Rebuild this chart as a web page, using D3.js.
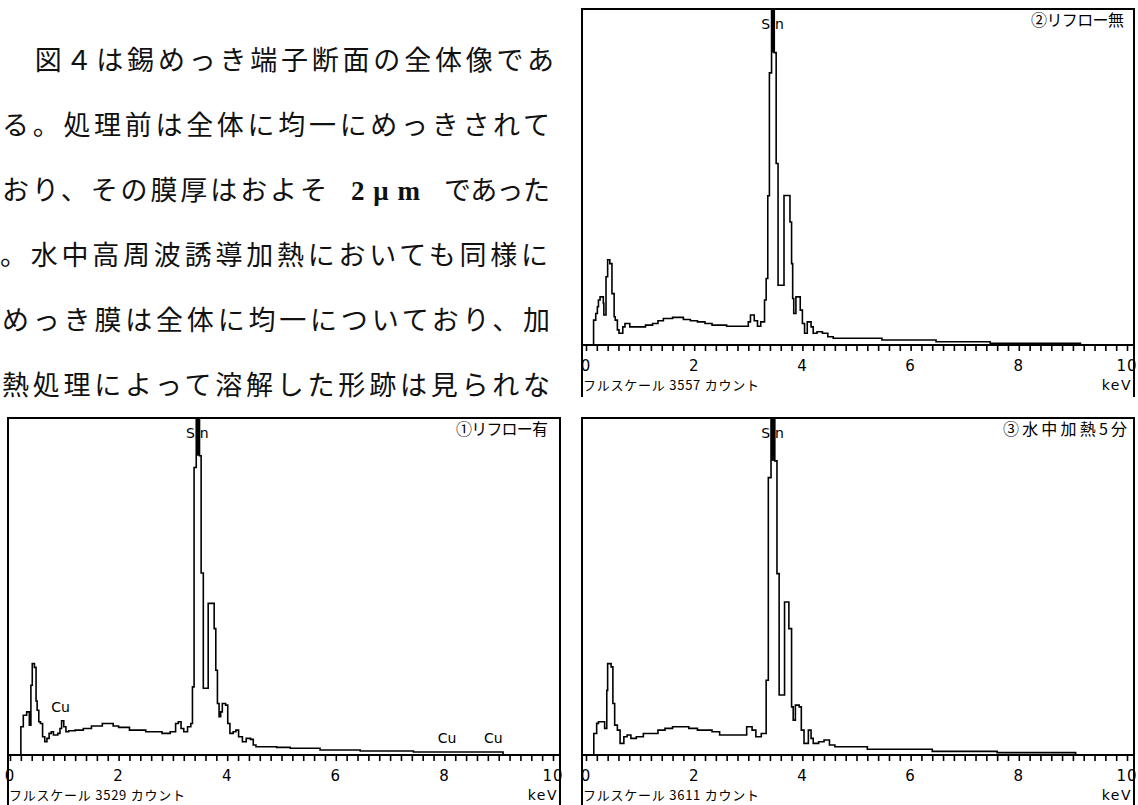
<!DOCTYPE html>
<html>
<head>
<meta charset="utf-8">
<script src="https://cdn.jsdelivr.net/npm/d3@7"></script>
<style>
  body { margin: 0; background: #fff; }
  svg { display: block; }
</style>
</head>
<body>
<div id="chart"></div>
<script>
// Paragraph beside the spectra (one entry per printed line, split where the font changes)
const paragraphLines = [
    [["　図４は錫めっき端子断面の全体像であ", "jp"]],
    [["る。処理前は全体に均一にめっきされて", "jp"]],
    [["おり、その膜厚はおよそ", "jp"], ["2μm", "latin"], ["であった", "jp"]],
    [["。水中高周波誘導加熱においても同様に", "jp"]],
    [["めっき膜は全体に均一についており、加", "jp"]],
    [["熱処理によって溶解した形跡は見られな", "jp"]]
];

// x axis
const majorTicks = [0, 2, 4, 6, 8, 10];
const tickLabels = ["0", "2", "4", "6", "8", "10"];
const minorStep = 0.2;

// element markers (keV)
const snLine = 3.44;
const cuLines = [0.93, 8.05, 8.9];
const cuLabelCounts = [448, 126, 126];

// ② reflow off - full scale 3557 counts
const reflowOffTitle = "②リフロー無";
const reflowOffFullScale = 3557;
const reflowOffEnergy = [0.14, 0.18, 0.21, 0.23, 0.26, 0.32, 0.33, 0.37, 0.40, 0.44, 0.48, 0.52, 0.54, 0.58, 0.61, 0.68, 0.72, 0.81,
    1.10, 1.23, 1.33, 1.43, 1.60, 1.80, 1.93, 2.06, 2.20, 2.33, 2.60, 3.00, 3.04, 3.11, 3.17, 3.23, 3.30, 3.33, 3.36,
    3.39, 3.43, 3.48, 3.515, 3.55, 3.66, 3.77, 3.80, 3.82, 3.84, 3.88, 3.96, 4.00, 4.04, 4.09, 4.16, 4.20, 4.27, 4.37,
    4.47, 4.57, 5.47, 6.47, 7.47, 9.14];
const reflowOffCounts = [263, 334, 405, 477, 509, 441, 317, 722, 903, 861, 544, 299, 263, 160, 124, 192, 228, 192,
    210, 228, 256, 281, 292, 270, 256, 245, 228, 210, 199, 245, 317, 256, 199, 245, 477, 704, 1580,
    2881, 3557, 3095, 1921, 633, 1583, 1302, 861, 493, 334, 509, 369, 228, 124, 245, 192, 124, 141, 124,
    88, 71, 53, 35, 18, 0];

// ① reflow on - full scale 3529 counts
const reflowOnTitle = "①リフロー有";
const reflowOnFullScale = 3529;
const reflowOnEnergy = [0.20, 0.245, 0.307, 0.356, 0.385, 0.41, 0.45, 0.48, 0.50, 0.53, 0.56, 0.60, 0.64, 0.68, 0.72, 0.76, 0.80,
    0.88, 0.92, 0.95, 0.99, 1.03, 1.08, 1.20, 1.35, 1.50, 1.70, 1.90, 2.00, 2.20, 2.50, 2.80, 2.95, 3.05, 3.10, 3.15,
    3.20, 3.27, 3.33, 3.36, 3.39, 3.43, 3.49, 3.52, 3.56, 3.65, 3.76, 3.79, 3.82, 3.85, 3.88, 3.91, 3.97, 4.01, 4.05,
    4.11, 4.16, 4.21, 4.28, 4.35, 4.43, 4.48, 4.53, 4.91, 5.16, 5.71, 6.45, 7.43, 9.08];
const reflowOnCounts = [296, 416, 452, 313, 731, 957, 918, 565, 469, 348, 330, 191, 139, 174, 226, 244, 209,
    226, 278, 359, 296, 244, 254, 261, 278, 303, 330, 303, 289, 261, 244, 226, 244, 330, 348, 278,
    244, 296, 330, 713, 3010, 3529, 3134, 1906, 699, 1588, 1323, 887, 540, 400, 452, 540, 522, 330, 226,
    244, 261, 191, 139, 174, 164, 104, 87, 80, 70, 52, 42, 31, 0];

// ③ heated in water 5 min - full scale 3611 counts
const waterTitle = "③水中加熱5分";
const waterFullScale = 3611;
const waterEnergy = [0.144, 0.197, 0.23, 0.344, 0.384, 0.40, 0.464, 0.497, 0.53, 0.58, 0.63, 0.70, 0.76, 0.83, 0.93, 1.06,
    1.33, 1.46, 1.60, 1.90, 2.06, 2.33, 2.47, 2.97, 3.07, 3.14, 3.24, 3.33, 3.37, 3.42, 3.49, 3.53, 3.57, 3.67, 3.75,
    3.80, 3.83, 3.87, 3.94, 3.98, 4.03, 4.11, 4.16, 4.20, 4.30, 4.40, 4.50, 4.60, 5.20, 6.40, 7.60, 9.05];
const waterCounts = [231, 339, 357, 285, 693, 979, 944, 552, 320, 267, 125, 196, 214, 178, 196, 231,
    267, 285, 303, 285, 267, 249, 214, 303, 267, 196, 231, 801, 2972, 3611, 3152, 1943, 643, 1639, 1354,
    516, 374, 534, 516, 267, 125, 267, 178, 125, 142, 160, 107, 89, 61, 39, 25, 0];

const jpFont = "'Noto Sans CJK JP', sans-serif";
const labelFont = "'DejaVu Sans', sans-serif";

const svg = d3.select("#chart")
    .append("svg")
    .attr("width", 1138)
    .attr("height", 805);

//Paragraph text, each segment is stretched to the width it has in the page
const paraLayout = [
    [{x: 4, w: 550}],
    [{x: 2, w: 548}],
    [{x: 2, w: 325}, {x: 351, w: 69}, {x: 444, w: 106}],
    [{x: 0, w: 548}],
    [{x: 2, w: 548}],
    [{x: 2, w: 548}]
];
paragraphLines.forEach((segments, i) => {
    segments.forEach((seg, j) => {
        svg.append("text")
            .attr("x", paraLayout[i][j].x)
            .attr("y", 70 + i * 65)
            .attr("font-family", seg[1] == "latin" ? "'Liberation Serif', serif" : jpFont)
            .attr("font-weight", seg[1] == "latin" ? "bold" : "normal")
            .attr("font-size", 27)
            .attr("fill", "#111")
            .attr("textLength", paraLayout[i][j].w)
            .attr("lengthAdjust", "spacing")
            .text(seg[0]);
    });
});

function drawSpectrum(p) {
    const g = svg.append("g");

    const x = d3.scaleLinear().domain([0, 10]).range([p.x0, p.x10]);
    const y = d3.scaleLinear().domain([0, p.fullScale]).range([p.base, p.top]);

    //Frame: top and both sides, open at the bottom
    g.append("path")
        .attr("d", `M${p.left},${p.bottom}V${p.top}H${p.right}V${p.bottom}`)
        .attr("fill", "none")
        .attr("stroke", "#000")
        .attr("stroke-width", 2);

    //Spectrum drawn as a step histogram, starting from the baseline
    const pts = [[p.energy[0], 0]].concat(p.energy.map((e, i) => [e, p.counts[i]]));
    const line = d3.line()
        .x(d => x(d[0]))
        .y(d => y(d[1]))
        .curve(d3.curveStepAfter);
    g.append("path")
        .attr("d", line(pts))
        .attr("fill", "none")
        .attr("stroke", "#000")
        .attr("stroke-width", 1.6);

    //The full scale channel is filled solid like in the original print
    const pk = p.counts.indexOf(d3.max(p.counts));
    g.append("rect")
        .attr("x", x(p.energy[pk]))
        .attr("y", y(p.counts[pk]))
        .attr("width", x(p.energy[pk + 1]) - x(p.energy[pk]))
        .attr("height", y(p.counts[pk + 1]) - y(p.counts[pk]))
        .attr("fill", "#000");

    //Baseline across the whole frame
    g.append("line")
        .attr("x1", p.left).attr("x2", p.right)
        .attr("y1", p.base).attr("y2", p.base)
        .attr("stroke", "#000")
        .attr("stroke-width", 2);

    //Minor ticks every 0.2 keV
    g.append("g")
        .attr("transform", "translate(0," + p.base + ")")
        .call(d3.axisBottom(x)
            .tickValues(d3.range(0, 10 / minorStep + 1).map(i => i * minorStep))
            .tickSize(6)
            .tickFormat(""))
        .call(a => a.select(".domain").remove())
        .selectAll(".tick line").attr("stroke-width", 1.6);

    //Tick labels
    g.selectAll("text.tlabel")
        .data(majorTicks)
        .join("text")
        .attr("class", "tlabel")
        .attr("x", d => x(d))
        .attr("y", p.base + 26)
        .attr("text-anchor", "middle")
        .attr("font-family", labelFont)
        .attr("font-size", 15)
        .attr("letter-spacing", 1)
        .text((d, i) => tickLabels[i]);

    //Full scale and unit
    g.append("text")
        .attr("x", p.left + 1)
        .attr("y", p.base + 45)
        .attr("font-family", jpFont)
        .attr("font-size", 13)
        .attr("textLength", 176)
        .attr("lengthAdjust", "spacing")
        .text("フルスケール " + p.fullScale + " カウント");
    g.append("text")
        .attr("x", p.right - 2)
        .attr("y", p.base + 45)
        .attr("text-anchor", "end")
        .attr("font-family", labelFont)
        .attr("font-size", 14)
        .attr("letter-spacing", 1.5)
        .text("keV");

    //Sample title in the top right corner
    g.append("text")
        .attr("x", p.right - p.titleGap)
        .attr("y", p.top + 17)
        .attr("text-anchor", "end")
        .attr("font-family", jpFont)
        .attr("font-size", 16)
        .attr("textLength", p.titleWidth)
        .attr("lengthAdjust", "spacing")
        .text(p.title);

    //Sn marker label split by the peak line
    const sx = x(snLine);
    g.append("text").attr("x", sx - 2).attr("y", p.top + 20).attr("text-anchor", "end")
        .attr("font-family", labelFont).attr("font-size", 14).text("S");
    g.append("text").attr("x", sx + 3).attr("y", p.top + 20).attr("text-anchor", "start")
        .attr("font-family", labelFont).attr("font-size", 14).text("n");

    if (p.showCu) {
        g.selectAll("text.cu")
            .data(cuLines)
            .join("text")
            .attr("class", "cu")
            .attr("x", d => x(d))
            .attr("y", (d, i) => y(cuLabelCounts[i]))
            .attr("text-anchor", "middle")
            .attr("font-family", labelFont)
            .attr("font-size", 14)
            .text("Cu");
    }
}

drawSpectrum({
    title: reflowOffTitle, titleWidth: 93, titleGap: 10, fullScale: reflowOffFullScale,
    energy: reflowOffEnergy, counts: reflowOffCounts,
    left: 582, right: 1134, top: 9, base: 345, bottom: 397, x0: 586, x10: 1127, showCu: false
});
drawSpectrum({
    title: reflowOnTitle, titleWidth: 92, titleGap: 12, fullScale: reflowOnFullScale,
    energy: reflowOnEnergy, counts: reflowOnCounts,
    left: 8, right: 560, top: 418, base: 755, bottom: 820, x0: 10, x10: 553, showCu: true
});
drawSpectrum({
    title: waterTitle, titleWidth: 124, titleGap: 7, fullScale: waterFullScale,
    energy: waterEnergy, counts: waterCounts,
    left: 582, right: 1134, top: 418, base: 755, bottom: 820, x0: 586, x10: 1127, showCu: false
});
</script>
</body>
</html>
